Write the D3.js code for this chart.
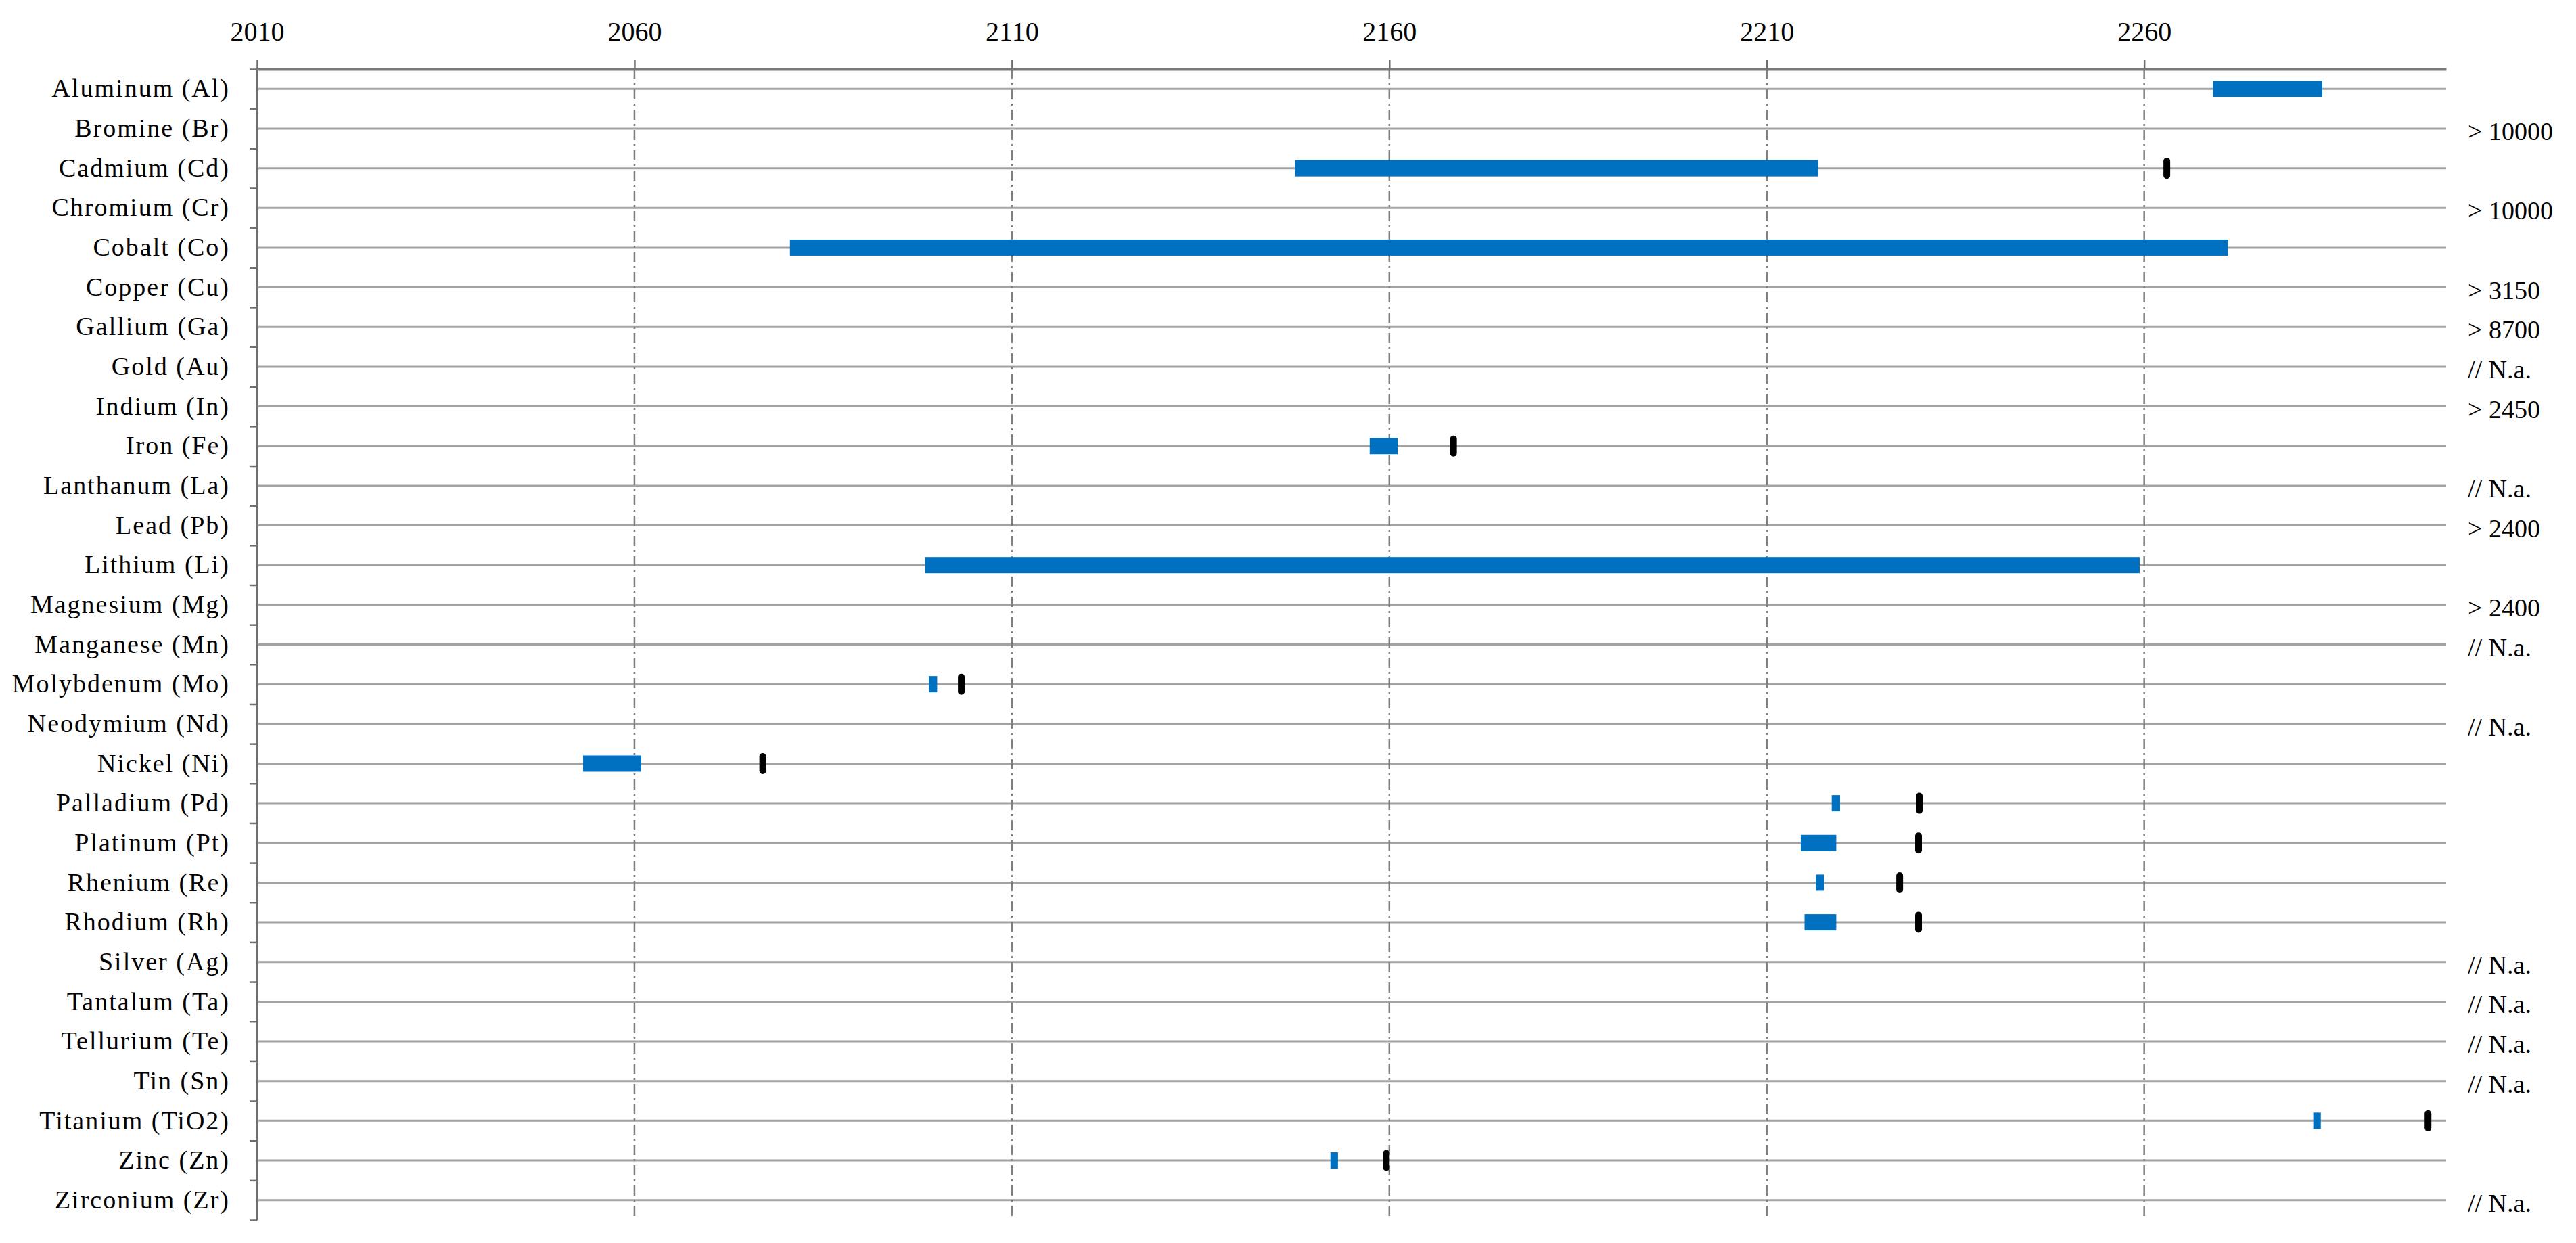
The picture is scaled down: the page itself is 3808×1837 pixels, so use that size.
<!DOCTYPE html>
<html>
<head>
<meta charset="utf-8">
<script src="https://cdn.jsdelivr.net/npm/d3@7"></script>
<style>
  html, body { margin: 0; padding: 0; background: #fff; }
  svg { display: block; }
</style>
</head>
<body>
<svg id="chart"></svg>
<script>
// element rows, top to bottom
const elements = [
  'Aluminum (Al)', 'Bromine (Br)', 'Cadmium (Cd)', 'Chromium (Cr)', 'Cobalt (Co)',
  'Copper (Cu)', 'Gallium (Ga)', 'Gold (Au)', 'Indium (In)', 'Iron (Fe)',
  'Lanthanum (La)', 'Lead (Pb)', 'Lithium (Li)', 'Magnesium (Mg)', 'Manganese (Mn)',
  'Molybdenum (Mo)', 'Neodymium (Nd)', 'Nickel (Ni)', 'Palladium (Pd)', 'Platinum (Pt)',
  'Rhenium (Re)', 'Rhodium (Rh)', 'Silver (Ag)', 'Tantalum (Ta)', 'Tellurium (Te)',
  'Tin (Sn)', 'Titanium (TiO2)', 'Zinc (Zn)', 'Zirconium (Zr)'
]

// blue range (start / end year), null = no bar
const rangeStart = [
  2269.1, null, 2147.5, null, 2080.6,
  null, null, null, null, 2157.4,
  null, null, 2098.5, null, null,
  2099.0, null, 2053.2, 2218.6, 2214.5,
  2216.5, 2215.0, null, null, null,
  null, 2282.4, 2152.2, null
]
const rangeEnd = [
  2283.6, null, 2216.8, null, 2271.1,
  null, null, null, null, 2161.1,
  null, null, 2259.4, null, null,
  2100.1, null, 2060.9, 2219.7, 2219.2,
  2217.6, 2219.2, null, null, null,
  null, 2283.4, 2153.2, null
]

// black single-year marker
const markerYear = [
  null, null, 2263.0, null, null,
  null, null, null, null, 2168.5,
  null, null, null, null, null,
  2103.3, null, 2077.0, 2230.2, 2230.1,
  2227.6, 2230.1, null, null, null,
  null, 2297.6, 2159.6, null
]

// notes written right of the plot
const rightNote = [
  null, '> 10000', null, '> 10000', null,
  '> 3150', '> 8700', '// N.a.', '> 2450', null,
  '// N.a.', '> 2400', null, '> 2400', '// N.a.',
  null, '// N.a.', null, null, null,
  null, null, '// N.a.', '// N.a.', '// N.a.',
  '// N.a.', null, null, '// N.a.'
]

const xTicks = [2010, 2060, 2110, 2160, 2210, 2260]

const width = 3808
const height = 1837
const margin = { top: 102, right: 192, bottom: 34, left: 380 }

const svg = d3.select('#chart')
  .attr('width', width)
  .attr('height', height)

const x = d3.scaleLinear().domain([2010, 2300]).range([margin.left, width - margin.right])
const y = d3.scaleBand().domain(elements).range([margin.top, height - margin.bottom])
const yIdx = d3.scaleLinear().domain([0, elements.length]).range([margin.top, height - margin.bottom])

const rows = elements.map((name, i) => ({
  name,
  start: rangeStart[i],
  end: rangeEnd[i],
  marker: markerYear[i],
  note: rightNote[i]
}))

// row lines
svg.append('g')
  .selectAll('line')
  .data(rows)
  .join('line')
  .attr('x1', x(2010))
  .attr('x2', x(2300))
  .attr('y1', d => y(d.name) + y.bandwidth() / 2)
  .attr('y2', d => y(d.name) + y.bandwidth() / 2)
  .style('stroke', '#a3a3a3')
  .style('stroke-width', 3)

// vertical dash-dot grid
svg.append('g')
  .selectAll('line')
  .data(xTicks.slice(1))
  .join('line')
  .attr('x1', d => x(d))
  .attr('x2', d => x(d))
  .attr('y1', margin.top)
  .attr('y2', height - margin.bottom)
  .style('stroke', '#7f7f7f')
  .style('stroke-width', 2.5)
  .style('stroke-dasharray', '15,6,3,6')

// blue ranges
svg.append('g')
  .selectAll('rect')
  .data(rows.filter(d => d.start !== null))
  .join('rect')
  .attr('x', d => x(d.start))
  .attr('width', d => x(d.end) - x(d.start))
  .attr('y', d => y(d.name) + y.bandwidth() / 2 - 12)
  .attr('height', 24)
  .style('fill', '#0070c0')

// black markers
svg.append('g')
  .selectAll('rect')
  .data(rows.filter(d => d.marker !== null))
  .join('rect')
  .attr('x', d => x(d.marker) - 5)
  .attr('width', 10)
  .attr('y', d => y(d.name) + y.bandwidth() / 2 - 15.5)
  .attr('height', 31)
  .attr('rx', 5)
  .attr('ry', 5)
  .style('fill', '#000')

// top axis
const xAxis = d3.axisTop(x).tickValues(xTicks).tickFormat(d3.format('d'))
  .tickSize(14).tickSizeOuter(0).tickPadding(28)
const gx = svg.append('g')
  .attr('transform', `translate(0, ${margin.top})`)
  .call(xAxis)
gx.select('.domain').style('stroke', '#7a7a7a').style('stroke-width', 4)
gx.selectAll('.tick line').style('stroke', '#6f6f6f').style('stroke-width', 2.5)
gx.selectAll('.tick text')
  .style('font-family', '"Liberation Serif", serif')
  .style('font-size', '40px')
  .style('fill', '#000')

// left axis: ticks on the row boundaries
const yAxis = d3.axisLeft(yIdx).tickValues(d3.range(elements.length + 1))
  .tickFormat('').tickSize(11).tickSizeOuter(0)
const gy = svg.append('g')
  .attr('transform', `translate(${margin.left}, 0)`)
  .call(yAxis)
gy.select('.domain').style('stroke', '#6f6f6f').style('stroke-width', 3)
gy.selectAll('.tick line').style('stroke', '#6f6f6f').style('stroke-width', 2.5)

// left labels
const gl = svg.append('g')
  .attr('transform', `translate(${margin.left}, 0)`)
  .call(d3.axisLeft(y).tickSize(0).tickPadding(40))
gl.select('.domain').remove()
gl.selectAll('.tick text')
  .style('font-family', '"Liberation Serif", serif')
  .style('font-size', '38px')
  .style('letter-spacing', '2px')
  .style('fill', '#000')

// right notes
svg.append('g')
  .selectAll('text')
  .data(rows.filter(d => d.note !== null))
  .join('text')
  .attr('x', x(2300) + 32)
  .attr('y', d => y(d.name) + y.bandwidth() / 2 + 17)
  .text(d => d.note)
  .style('font-family', '"Liberation Serif", serif')
  .style('font-size', '38px')
  .style('fill', '#000')
</script>
</body>
</html>
